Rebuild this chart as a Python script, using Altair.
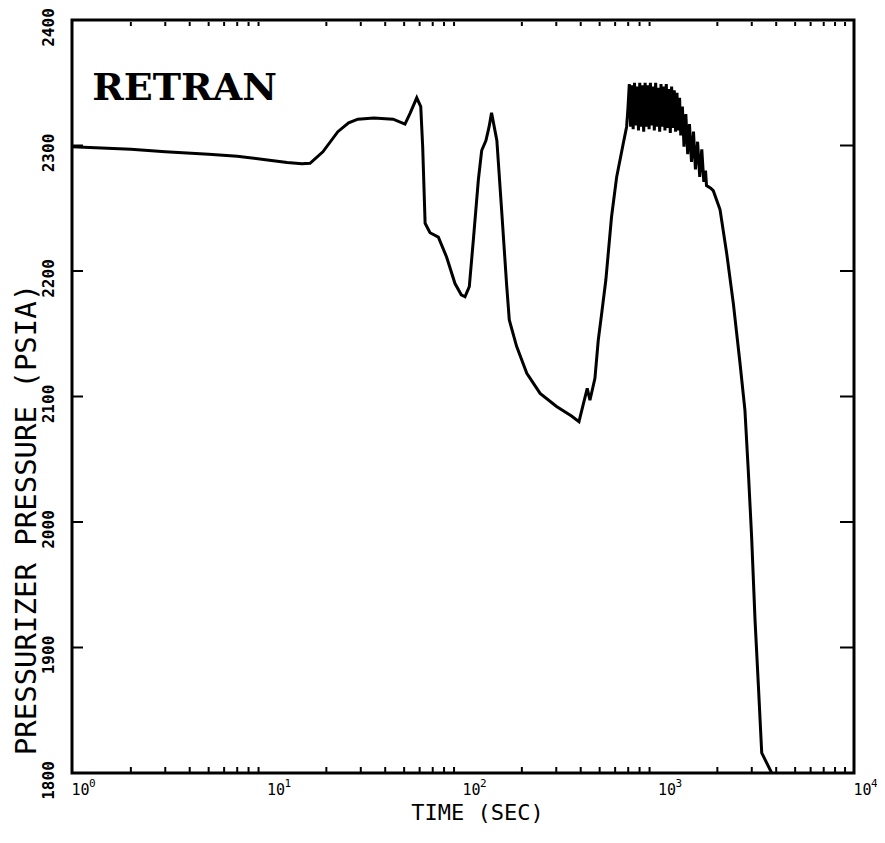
import altair as alt
import pandas as pd

# ---- data ----
time_sec = [
    1.0, 2.0, 3.0, 5.0, 7.0, 10.0, 12.6, 15.0, 16.5, 19.2, 22.9, 26.0, 29.0, 35.0,
    43.9, 50.5, 53.6, 58.0, 60.8, 62.2, 64.0, 67.8, 74.8, 82.5, 91.0, 98.0, 102.4,
    107.7, 113.0, 119.8, 124.6, 131.0, 136.0, 140.0, 149.0, 158.0, 167.0, 172.5,
    188.0, 212.0, 248.0, 301.0, 359.0, 392.0, 405.0, 432.0, 446.0, 473.0, 492.0,
    512.0, 538.0, 575.0, 611.0, 661.0, 687.0,
    698, 709, 720, 731, 742, 754, 765, 777, 790, 802, 815, 827, 840, 854, 867, 881,
    895, 909, 923, 938, 952, 967, 983, 998, 1014, 1030, 1046, 1063, 1079, 1096,
    1114, 1131, 1149, 1167, 1186, 1204, 1223, 1243, 1262, 1282,
    1300, 1325, 1350, 1380, 1410, 1440, 1475, 1510, 1545, 1585, 1625, 1665, 1705,
    1740, 1760, 1850, 1906, 2064, 2233, 2415, 2612, 2768, 2879, 2995, 3117, 3244,
    3373, 3794,
]
pressure_psia = [
    2299, 2297, 2295, 2293, 2291.5, 2288.5, 2286.5, 2285.5, 2285.8, 2295, 2311, 2318,
    2321, 2322, 2321, 2317, 2325.6, 2338, 2331, 2299, 2238, 2230.5, 2227, 2211, 2190,
    2181, 2179.5, 2187.5, 2225, 2272.5, 2296, 2304, 2315, 2326, 2304, 2246, 2190, 2161,
    2140, 2118.5, 2102.5, 2092, 2084.5, 2080, 2089, 2106.5, 2097, 2114.5, 2145, 2166,
    2193, 2243, 2275, 2302, 2315,
    2330, 2349, 2315, 2348, 2313, 2350, 2316, 2347, 2312, 2350, 2315, 2348, 2311, 2350,
    2315, 2348, 2313, 2350, 2316, 2347, 2312, 2350, 2315, 2346, 2311, 2349, 2315, 2347,
    2312, 2349, 2314, 2345, 2310, 2347, 2314, 2344, 2311, 2342, 2312, 2338,
    2308, 2331, 2299, 2325, 2293, 2317, 2287, 2311, 2281, 2303, 2275, 2297, 2271,
    2280, 2268, 2266, 2264, 2249, 2214, 2174, 2126.5, 2089, 2041, 1988, 1922, 1869,
    1816, 1800,
]

x_tick_values = [1, 10, 100, 1000, 10000]
x_tick_base = "10"
x_tick_exponents = ["0", "1", "2", "3", "4"]
x_minor_ticks = [2, 3, 4, 5, 6, 7, 8, 9,
                 20, 30, 40, 50, 60, 70, 80, 90,
                 200, 300, 400, 500, 600, 700, 800, 900,
                 2000, 3000, 4000, 5000, 6000, 7000, 8000, 9000]
y_tick_values = [1800, 1900, 2000, 2100, 2200, 2300, 2400]
y_major_ticks = [1900, 2000, 2100, 2200, 2300]
panel_label = ["RETRAN"]

W, H = 782, 753

curve = pd.DataFrame({"t": time_sec, "p": pressure_psia})
minor = pd.DataFrame({"t": x_minor_ticks})
major_y = pd.DataFrame({"p": y_major_ticks})
exps = pd.DataFrame({"t": x_tick_values, "e": x_tick_exponents})
label_df = pd.DataFrame({"txt": panel_label, "t": [1.27], "p": [2336]})

x_enc = alt.X(
    "t:Q",
    scale=alt.Scale(type="log", domain=[1, 10000], nice=False),
    axis=alt.Axis(
        values=x_tick_values, labelExpr="'%s'" % x_tick_base, title="TIME (SEC)",
        ticks=False, domain=False, grid=False, labelFlush=False, labelOverlap=False,
        labelAlign="left", labelBaseline="top", labelPadding=9, labelOffset=-1,
        labelFont="DejaVu Sans Mono", labelFontSize=15, labelColor="black",
        titleFont="DejaVu Sans Mono", titleFontSize=22, titleFontWeight="normal",
        titleColor="black", titleX=405, titleY=46, titleBaseline="alphabetic",
    ),
)
y_enc = alt.Y(
    "p:Q",
    scale=alt.Scale(domain=[1800, 2400], nice=False, zero=False),
    axis=alt.Axis(
        values=y_tick_values, format="d", title="PRESSURIZER PRESSURE (PSIA)",
        ticks=False, domain=False, grid=False, labelOverlap=False,
        labelAngle=270, labelAlign="center", labelBaseline="alphabetic",
        labelPadding=19, labelOffset=7,
        labelFont="DejaVu Sans Mono", labelFontSize=16, labelFontWeight="bold",
        labelColor="black",
        titleFont="DejaVu Sans Mono", titleFontSize=29, titleFontWeight="normal",
        titleColor="black", titleAngle=270, titleAlign="center",
        titleBaseline="alphabetic", titleX=-37, titleY=499,
    ),
)

line = alt.Chart(curve).mark_line(color="black", strokeWidth=3, clip=True).encode(
    x=x_enc, y=y_enc, order="t:Q"
)

bottom_ticks = alt.Chart(minor).mark_rule(color="black", strokeWidth=2).encode(
    x="t:Q", y=alt.value(H), y2=alt.value(H - 6)
)
top_ticks = alt.Chart(minor).mark_rule(color="black", strokeWidth=2).encode(
    x="t:Q", y=alt.value(2), y2=alt.value(6)
)
left_ticks = alt.Chart(major_y).mark_rule(color="black", strokeWidth=2).encode(
    y="p:Q", x=alt.value(0), x2=alt.value(11)
)
right_ticks = alt.Chart(major_y).mark_rule(color="black", strokeWidth=2).encode(
    y="p:Q", x=alt.value(W - 14), x2=alt.value(W)
)
exponent_text = alt.Chart(exps).mark_text(
    font="DejaVu Sans Mono", fontSize=11, align="left", baseline="top",
    dx=17, color="black"
).encode(x="t:Q", y=alt.value(H + 5), text="e:N")
label = alt.Chart(label_df).mark_text(
    font="DejaVu Serif", fontWeight="bold", fontSize=38, align="left",
    baseline="alphabetic", color="black"
).encode(x="t:Q", y="p:Q", text="txt:N")

chart = (
    alt.layer(line, bottom_ticks, top_ticks, left_ticks, right_ticks,
              exponent_text, label)
    .properties(
        width=W, height=H,
        autosize=alt.AutoSizeParams(type="none"),
        padding={"left": 64, "top": 12, "right": 23, "bottom": 60},
        background="white",
    )
    .configure_view(stroke="black", strokeWidth=3)
)

chart.save("out.html", embed_options={"renderer": "svg", "actions": False})
